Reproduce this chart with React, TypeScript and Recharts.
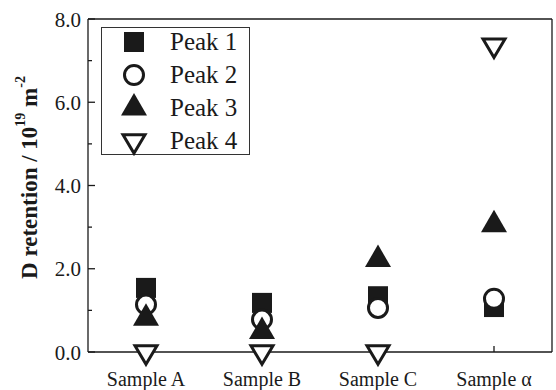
import { Legend, Scatter, ScatterChart, XAxis, YAxis } from "recharts";

const samples = ["Sample A", "Sample B", "Sample C", "Sample α"];
const samplePositions = [1, 2, 3, 4];
const peak1 = [1.54, 1.18, 1.34, 1.08];
const peak2 = [1.14, 0.78, 1.06, 1.28];
const peak3 = [0.81, 0.49, 2.22, 3.06];
const peak4 = [0, 0, 0, 7.37];
const yTicks = [0, 1, 2, 3, 4, 5, 6, 7, 8];

type MarkerKind = "square" | "circle" | "up" | "down";

const series: { name: string; values: number[]; kind: MarkerKind }[] = [
  { name: "Peak 1", values: peak1, kind: "square" },
  { name: "Peak 2", values: peak2, kind: "circle" },
  { name: "Peak 3", values: peak3, kind: "up" },
  { name: "Peak 4", values: peak4, kind: "down" }
];

const ink = "#1a1a1a";
const font = "Times New Roman, Liberation Serif, DejaVu Serif, serif";

function toPoints(values: number[]) {
  return values.map((v, i) => ({ x: samplePositions[i], y: v }));
}

function Marker({ kind, cx, cy }: { kind: MarkerKind; cx: number; cy: number }) {
  if (kind === "square") {
    return <rect x={cx - 10} y={cy - 10} width={20} height={20} fill={ink} />;
  }
  if (kind === "circle") {
    return <circle cx={cx} cy={cy} r={9.5} fill="#fff" stroke={ink} strokeWidth={3} />;
  }
  if (kind === "up") {
    const w = 26;
    const h = 22.5;
    return (
      <path
        d={`M${cx},${cy - (2 * h) / 3}L${cx + w / 2},${cy + h / 3}L${cx - w / 2},${cy + h / 3}Z`}
        fill={ink}
      />
    );
  }
  const w = 22;
  const h = 18.5;
  return (
    <path
      d={`M${cx},${cy + (2 * h) / 3}L${cx + w / 2},${cy - h / 3}L${cx - w / 2},${cy - h / 3}Z`}
      fill="#fff"
      stroke={ink}
      strokeWidth={3}
    />
  );
}

function LeftTick(props: any) {
  const { x, y, payload } = props;
  const major = payload.value % 2 === 0;
  return (
    <g>
      <line x1={x + 7} x2={x + 7 + (major ? 7 : 4)} y1={y} y2={y} stroke={ink} strokeWidth={1.3} />
      {major && (
        <text
          x={x}
          y={y}
          dy="0.36em"
          textAnchor="end"
          style={{ fontFamily: font, fontSize: 21 }}
          fill={ink}
        >
          {payload.value.toFixed(1)}
        </text>
      )}
    </g>
  );
}

function BottomTick(props: any) {
  const { x, y, payload } = props;
  return (
    <text x={x} y={y} dy="0.72em" textAnchor="middle" style={{ fontFamily: font, fontSize: 20 }} fill={ink}>
      {samples[payload.value - 1]}
    </text>
  );
}

function RightTick(props: any) {
  const { x, y, payload } = props;
  const major = payload.value % 2 === 0;
  return <line x1={x} x2={x - (major ? 7 : 4)} y1={y} y2={y} stroke={ink} strokeWidth={1.3} />;
}

function YLabel(props: any) {
  const { viewBox } = props;
  const cx = 29;
  const cy = viewBox.y + viewBox.height / 2 - 8;
  return (
    <text
      x={cx}
      y={cy}
      transform={`rotate(-90, ${cx}, ${cy})`}
      textAnchor="middle"
      dominantBaseline="central"
      style={{ fontFamily: font, fontWeight: "bold", fontSize: 23 }}
      fill={ink}
    >
      D retention / 10
      <tspan dy={-9} style={{ fontSize: 14 }}>19</tspan>
      <tspan dy={9}>{"  m"}</tspan>
      <tspan dy={-9} style={{ fontSize: 14 }}>-2</tspan>
    </text>
  );
}

function LegendBox(props: any) {
  const { payload } = props;
  return (
    <div
      style={{
        position: "relative",
        width: 149,
        height: 128,
        boxSizing: "border-box",
        border: "1px solid #333",
        background: "#fff",
        fontFamily: font,
        fontSize: 25,
        color: ink
      }}
    >
      {(payload || []).map((entry: any, i: number) => {
        const s = series.find((item) => item.name === entry.value) || series[i];
        return (
          <div
            key={entry.value}
            style={{
              position: "absolute",
              left: 0,
              top: 14 + i * 33 - 15,
              height: 30,
              display: "flex",
              alignItems: "center"
            }}
          >
            <svg width={64} height={30}>
              <Marker kind={s.kind} cx={32} cy={15} />
            </svg>
            <span style={{ marginLeft: 4, lineHeight: "30px" }}>{entry.value}</span>
          </div>
        );
      })}
    </div>
  );
}

export default function App() {
  return (
    <div style={{ position: "absolute", left: 0, top: 0, background: "#fff" }}>
      <ScatterChart width={556} height={390} margin={{ top: 0, right: 0, bottom: 0, left: 0 }}>
        <XAxis
          xAxisId="bottom"
          type="number"
          dataKey="x"
          domain={[0.5, 4.5]}
          ticks={samplePositions}
          height={38}
          tickSize={-6}
          tickMargin={26}
          interval={0}
          stroke={ink}
          strokeWidth={1.3}
          tick={<BottomTick />}
        />
        <XAxis
          xAxisId="top"
          orientation="top"
          type="number"
          dataKey="x"
          domain={[0.5, 4.5]}
          ticks={samplePositions}
          height={19}
          tickSize={-6}
          interval={0}
          stroke={ink}
          strokeWidth={1.3}
          tick={() => <g />}
        />
        <YAxis
          yAxisId="left"
          type="number"
          dataKey="y"
          domain={[0, 8]}
          ticks={yTicks}
          width={88}
          tickSize={0}
          tickMargin={7}
          tickLine={false}
          interval={0}
          stroke={ink}
          strokeWidth={1.3}
          tick={<LeftTick />}
          label={{ content: <YLabel /> }}
        />
        <YAxis
          yAxisId="right"
          orientation="right"
          type="number"
          dataKey="y"
          domain={[0, 8]}
          ticks={yTicks}
          width={4}
          tickSize={0}
          tickMargin={0}
          tickLine={false}
          interval={0}
          stroke={ink}
          strokeWidth={1.3}
          tick={<RightTick />}
        />
        <Legend
          layout="vertical"
          align="center"
          verticalAlign="middle"
          wrapperStyle={{ left: 101, top: 27, width: 149, height: 128 }}
          content={<LegendBox />}
        />
        {series.map((s) => (
          <Scatter
            key={s.name}
            name={s.name}
            data={toPoints(s.values)}
            xAxisId="bottom"
            yAxisId="left"
            fill={ink}
            isAnimationActive={false}
            shape={(p: any) => <Marker kind={s.kind} cx={p.cx} cy={p.cy} />}
          />
        ))}
      </ScatterChart>
    </div>
  );
}
